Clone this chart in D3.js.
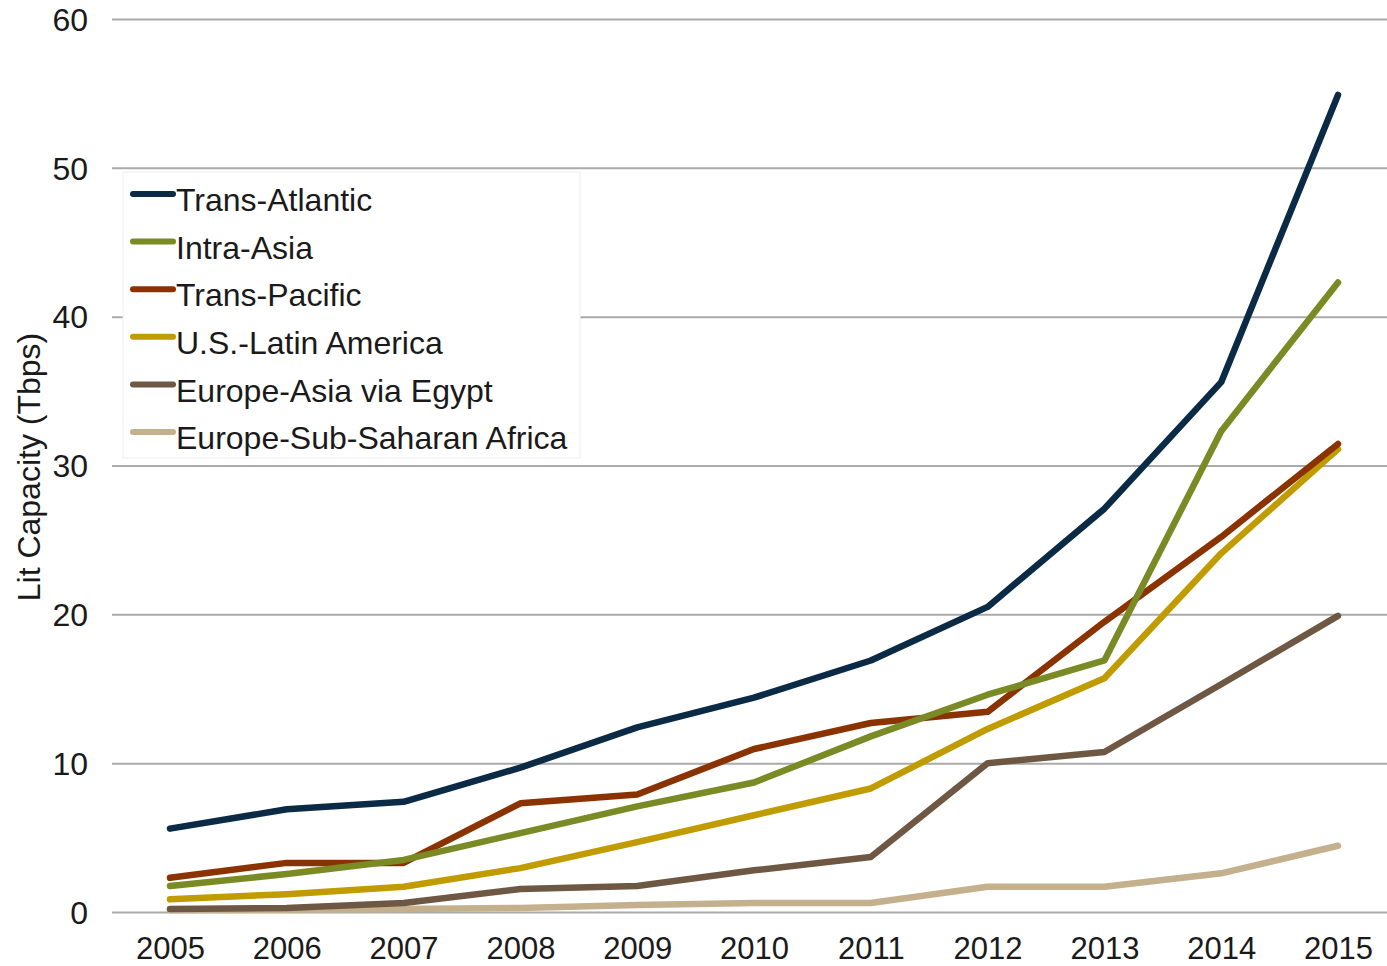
<!DOCTYPE html>
<html><head><meta charset="utf-8">
<script src="https://cdn.jsdelivr.net/npm/d3@7"></script>
<style>body{margin:0;background:#fff}svg{display:block}</style>
</head><body>
<script>
const years = ["2005","2006","2007","2008","2009","2010","2011","2012","2013","2014","2015"];
const yTicks = [0,10,20,30,40,50,60];
const seriesNames = ["Trans-Atlantic","Intra-Asia","Trans-Pacific","U.S.-Latin America","Europe-Asia via Egypt","Europe-Sub-Saharan Africa"];
const transAtlantic = [5.6,6.9,7.4,9.7,12.4,14.4,16.9,20.5,27.1,35.6,54.9];
const intraAsia = [1.75,2.55,3.5,5.3,7.1,8.7,11.8,14.6,16.9,32.3,42.3];
const transPacific = [2.3,3.3,3.3,7.3,7.9,10.95,12.7,13.45,19.5,25.2,31.45];
const usLatinAmerica = [0.85,1.2,1.7,2.95,4.7,6.5,8.3,12.3,15.7,24.1,31.1];
const europeAsiaEgypt = [0.2,0.27,0.6,1.55,1.75,2.8,3.7,10.0,10.75,15.3,19.9];
const europeSubSaharan = [0.13,0.15,0.2,0.27,0.47,0.6,0.6,1.7,1.7,2.6,4.45];
const colors = ["#0b2a45","#7a8a25","#8b3300","#c09c00","#6f5843","#c4b08c"];

const seriesData = [transAtlantic,intraAsia,transPacific,usLatinAmerica,europeAsiaEgypt,europeSubSaharan];
const W=1387,H=966;
const svg=d3.select("body").append("svg").attr("width",W).attr("height",H);
const font="'Liberation Sans', Arial, sans-serif";
const fs=32;
const x=d3.scalePoint().domain(years).range([170,1338]);
const y=d3.scaleLinear().domain([0,60]).range([912,19]);

// grid
const yAxis=d3.axisLeft(y).tickValues(yTicks).tickSize(-(1387-112)).tickPadding(24);
const gy=svg.append("g").attr("transform","translate(112,0)").call(yAxis);
gy.select(".domain").remove();
gy.selectAll(".tick line").attr("stroke","#aaaaaa").attr("stroke-width",2);
gy.selectAll(".tick text").attr("font-family",font).attr("font-size",fs).attr("fill","#1a1a1a").attr("dy","0.35em");

const xAxis=d3.axisBottom(x).tickSize(0).tickPadding(25);
const gx=svg.append("g").attr("transform","translate(0,912)").call(xAxis);
gx.select(".domain").remove();
gx.selectAll(".tick text").attr("font-family",font).attr("font-size",31).attr("fill","#1a1a1a").attr("dy","0.71em");

svg.append("text").attr("transform","translate(40,467) rotate(-90)").attr("text-anchor","middle")
  .attr("font-family",font).attr("font-size",fs).attr("fill","#1a1a1a").text("Lit Capacity (Tbps)");

const line=d3.line().x((d,i)=>x(years[i])).y(d=>y(d));
for(let k=seriesData.length-1;k>=0;k--){
  svg.append("path").datum(seriesData[k]).attr("d",line).attr("fill","none")
    .attr("stroke",colors[k]).attr("stroke-width",6.5).attr("stroke-linecap","round").attr("stroke-linejoin","round");
}

// legend
const lg=svg.append("g");
lg.append("rect").attr("x",123).attr("y",172).attr("width",457).attr("height",286).attr("fill","#fff").attr("stroke","#eeeeee").attr("stroke-width",1);
seriesNames.forEach((n,i)=>{
  const cy=200+i*47.6;
  lg.append("line").attr("x1",133).attr("x2",173).attr("y1",cy-6).attr("y2",cy-6)
    .attr("stroke",colors[i]).attr("stroke-width",6).attr("stroke-linecap","round");
  lg.append("text").attr("x",176).attr("y",cy).attr("dy","0.35em").attr("font-family",font).attr("font-size",fs).attr("fill","#1a1a1a").text(n);
});
</script>
</body></html>
